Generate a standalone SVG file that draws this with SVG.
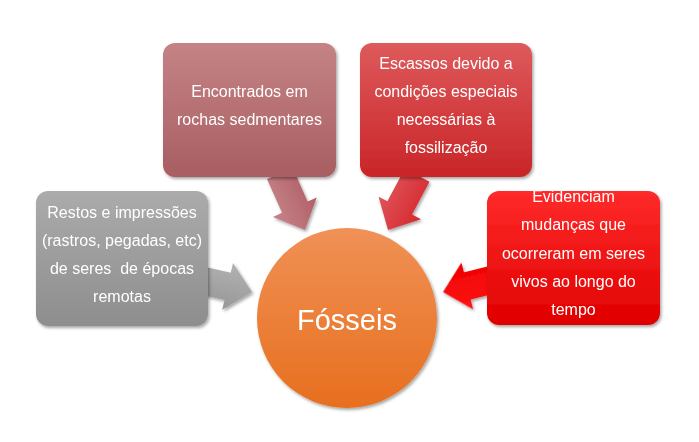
<svg xmlns="http://www.w3.org/2000/svg" width="699" height="442" viewBox="0 0 699 442">
<defs>
<filter id="sh" x="-20%" y="-20%" width="140%" height="140%">
<feDropShadow dx="1.5" dy="2" stdDeviation="1.8" flood-color="#000" flood-opacity="0.35"/>
</filter>
<linearGradient id="gGray" x1="0" y1="0" x2="0" y2="1"><stop offset="0" stop-color="#ABABAB"/><stop offset="1" stop-color="#8E8E8E"/></linearGradient>
<linearGradient id="gPink" x1="0" y1="0" x2="0" y2="1"><stop offset="0" stop-color="#C58385"/><stop offset="1" stop-color="#A85E62"/></linearGradient>
<linearGradient id="gRed" x1="0" y1="0" x2="0" y2="1"><stop offset="0" stop-color="#DE5A5C"/><stop offset="1" stop-color="#C92528"/></linearGradient>
<linearGradient id="gBright" x1="0" y1="0" x2="0" y2="1"><stop offset="0" stop-color="#FF2A2A"/><stop offset="1" stop-color="#E00000"/></linearGradient>
<linearGradient id="gCircle" x1="0" y1="0" x2="0" y2="1"><stop offset="0" stop-color="#F09156"/><stop offset="1" stop-color="#E76F1E"/></linearGradient>
<linearGradient id="aGray" x1="0" y1="0" x2="0" y2="1"><stop offset="0" stop-color="#B2B2B2"/><stop offset="1" stop-color="#979797"/></linearGradient>
<linearGradient id="aPink" x1="0" y1="0" x2="0" y2="1"><stop offset="0" stop-color="#B15F66"/><stop offset="1" stop-color="#C58489"/></linearGradient>
<linearGradient id="aRed" x1="0" y1="0" x2="0" y2="1"><stop offset="0" stop-color="#D52A30"/><stop offset="1" stop-color="#E05258"/></linearGradient>
<linearGradient id="aBright" x1="0" y1="0" x2="0" y2="1"><stop offset="0" stop-color="#FF1515"/><stop offset="1" stop-color="#EE0000"/></linearGradient>
<path id="arr" d="M0,0 L-25,-24 L-25,-14 L-62,-14 L-62,14 L-25,14 L-25,24 Z"/>
</defs>
<style>
.t{font-family:"Liberation Sans",Arial,sans-serif;font-size:16px;fill:#fff;text-anchor:middle;white-space:pre}
.big{font-family:"Liberation Sans",Arial,sans-serif;font-size:29px;fill:#fff;text-anchor:middle}
</style>
<rect width="699" height="442" fill="#fff"/>
<g id="connectors" filter="url(#sh)">
<use href="#arr" transform="translate(252,292) rotate(13)" fill="url(#aGray)"/>
<use href="#arr" transform="translate(305,230) rotate(66)" fill="url(#aPink)"/>
<use href="#arr" transform="translate(388,230) rotate(118)" fill="url(#aRed)"/>
<use href="#arr" transform="translate(443,292) rotate(166)" fill="url(#aBright)"/>
</g>
<g id="fosseis">
<circle cx="347" cy="318" r="90" fill="url(#gCircle)" filter="url(#sh)"/>
<text class="big" x="347" y="330">Fósseis</text>
</g>
<g id="restos">
<rect x="36" y="191" width="172" height="135" rx="12" fill="url(#gGray)" filter="url(#sh)"/>
<text class="t" x="122" y="217.5">Restos e impressões</text>
<text class="t" x="122" y="245.5">(rastros, pegadas, etc)</text>
<text class="t" x="122" y="274" xml:space="preserve">de seres  de épocas</text>
<text class="t" x="122" y="302">remotas</text>
</g>
<g id="encontrados">
<rect x="163" y="43" width="173" height="134" rx="12" fill="url(#gPink)" filter="url(#sh)"/>
<text class="t" x="249.5" y="97">Encontrados em</text>
<text class="t" x="249.5" y="125">rochas sedmentares</text>
</g>
<g id="escassos">
<rect x="360" y="43" width="172" height="134" rx="12" fill="url(#gRed)" filter="url(#sh)"/>
<text class="t" x="446" y="69">Escassos devido a</text>
<text class="t" x="446" y="97">condições especiais</text>
<text class="t" x="446" y="125">necessárias à</text>
<text class="t" x="446" y="153">fossilização</text>
</g>
<g id="evidenciam">
<rect x="487" y="191" width="173" height="134" rx="12" fill="url(#gBright)" filter="url(#sh)"/>
<text class="t" x="573.5" y="202">Evidenciam</text>
<text class="t" x="573.5" y="230">mudanças que</text>
<text class="t" x="573.5" y="259">ocorreram em seres</text>
<text class="t" x="573.5" y="287">vivos ao longo do</text>
<text class="t" x="573.5" y="315">tempo</text>
</g>
</svg>
